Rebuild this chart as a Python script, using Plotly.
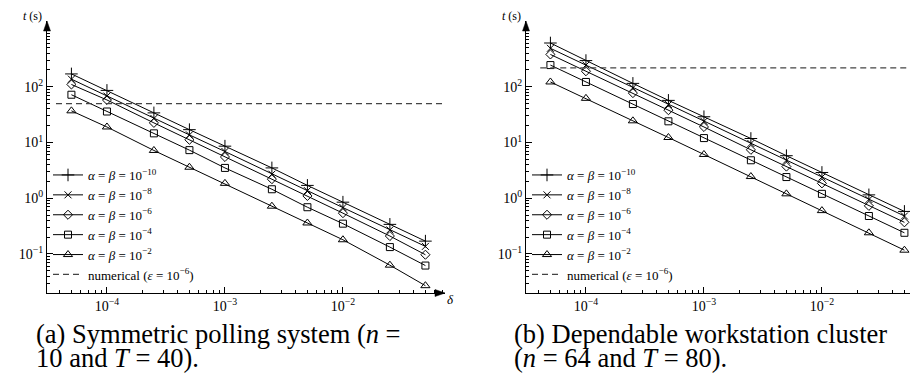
import plotly.graph_objects as go

W, H = 918, 377

# ---- data ----
deltas = [5e-5, 1e-4, 2.5e-4, 5e-4, 1e-3, 2.5e-3, 5e-3, 1e-2, 2.5e-2, 5e-2]

# (a) Symmetric polling system
a_10 = [170, 86, 34, 17, 8.6, 3.5, 1.7, 0.85, 0.34, 0.17]
a_8 = [137, 68, 27, 13.7, 6.9, 2.7, 1.37, 0.68, 0.27, 0.137]
a_6 = [110, 58, 22.5, 11.2, 5.5, 2.2, 1.1, 0.54, 0.21, 0.097]
a_4 = [72, 36, 14.6, 7.3, 3.5, 1.45, 0.69, 0.35, 0.133, 0.062]
a_2 = [37, 19, 7.2, 3.6, 1.85, 0.72, 0.36, 0.18, 0.063, 0.027]
a_num_x = [3.7e-5, 0.08]
a_num_y = [50, 50]

# (b) Dependable workstation cluster
b_10 = [610, 295, 115, 57, 29, 11.8, 5.8, 2.9, 1.15, 0.58]
b_8 = [490, 245, 96, 48, 24, 9.6, 4.8, 2.4, 0.95, 0.48]
b_6 = [380, 190, 77, 38, 19, 7.4, 3.7, 1.85, 0.73, 0.37]
b_4 = [245, 122, 49, 24, 12, 4.8, 2.4, 1.2, 0.48, 0.24]
b_2 = [122, 62, 24.5, 12.3, 6.1, 2.45, 1.2, 0.6, 0.24, 0.117]
b_num_x = [4.1e-5, 0.09]
b_num_y = [218, 218]

series_names = [
    "<i>α</i> = <i>β</i> = 10<sup>−10</sup>",
    "<i>α</i> = <i>β</i> = 10<sup>−8</sup>",
    "<i>α</i> = <i>β</i> = 10<sup>−6</sup>",
    "<i>α</i> = <i>β</i> = 10<sup>−4</sup>",
    "<i>α</i> = <i>β</i> = 10<sup>−2</sup>",
]
num_name = "numerical (<i>ε</i> = 10<sup>−6</sup>)"

x_tickvals = [1e-4, 1e-3, 1e-2]
x_ticktext = ["10<sup>−4</sup>", "10<sup>−3</sup>", "10<sup>−2</sup>"]
y_tickvals = [0.1, 1, 10, 100]
y_ticktext = ["10<sup>−1</sup>", "10<sup>0</sup>", "10<sup>1</sup>", "10<sup>2</sup>"]

captions_a = ["(a) Symmetric polling system (<i>n</i> =", "10 and <i>T</i> = 40)."]
captions_b = ["(b) Dependable workstation cluster", "(<i>n</i> = 64 and <i>T</i> = 80)."]

# ---- style ----
symbols = ["cross-thin-open", "x-thin-open", "diamond-open", "square-open", "triangle-up-open"]
sizes = [9, 7, 7, 7, 8]
SERIF = "Liberation Serif"

fig = go.Figure()


def add_panel(series, num_x, num_y, xa, ya, legend):
    for vals, name, sym, sz in zip(series, series_names, symbols, sizes):
        fig.add_trace(go.Scatter(
            x=deltas, y=vals, name=name, mode="lines+markers",
            xaxis=xa, yaxis=ya, legend=legend,
            line=dict(color="black", width=1),
            marker=dict(symbol=sym, size=sz, color="black",
                        line=dict(color="black", width=1)),
        ))
    fig.add_trace(go.Scatter(
        x=num_x, y=num_y, name=num_name, mode="lines",
        xaxis=xa, yaxis=ya, legend=legend,
        line=dict(color="#444444", width=1.3, dash="6px,4px"),
    ))


add_panel([a_10, a_8, a_6, a_4, a_2], a_num_x, a_num_y, "x", "y", "legend")
add_panel([b_10, b_8, b_6, b_4, b_2], b_num_x, b_num_y, "x2", "y2", "legend2")

y_px_bot, y_px_top = 285, 13
yd = [(H - y_px_bot) / H, (H - y_px_top) / H]
xd1 = [39 / W, 437 / W]
xd2 = [518 / W, 916 / W]

x_minor = [k * 10 ** e for e in (-5, -4, -3, -2) for k in range(2, 10)]
y_minor = [k * 10.0 ** e for e in (-2, -1, 0, 1, 2, 3) for k in range(2, 10)]

xaxis_common = dict(
    type="log", range=[-4.508, -1.135], showline=True, linecolor="black", linewidth=1,
    showgrid=False, zeroline=False, ticks="inside", ticklen=6, tickcolor="black",
    tickmode="array", tickvals=x_tickvals, ticktext=x_ticktext,
    tickfont=dict(family=SERIF, size=14, color="black"),
    minor=dict(ticks="inside", ticklen=3, tickcolor="black", tickmode="array",
               tickvals=x_minor, showgrid=False),
)
yaxis_common = dict(
    type="log", range=[-1.70, 3.18], showline=True, linecolor="black", linewidth=1,
    showgrid=False, zeroline=False, ticks="inside", ticklen=6, tickcolor="black",
    tickmode="array", tickvals=y_tickvals, ticktext=y_ticktext,
    tickfont=dict(family=SERIF, size=14, color="black"),
    minor=dict(ticks="inside", ticklen=3, tickcolor="black", tickmode="array",
               tickvals=y_minor, showgrid=False),
    domain=yd,
)

legend_common = dict(
    xanchor="left", yanchor="top", bgcolor="rgba(0,0,0,0)",
    font=dict(family=SERIF, size=13, color="black"), itemwidth=30,
    tracegroupgap=0,
)

fig.update_layout(
    width=W, height=H, margin=dict(l=0, r=0, t=0, b=0),
    paper_bgcolor="white", plot_bgcolor="white",
    xaxis=dict(domain=xd1, anchor="y", **xaxis_common),
    yaxis=dict(anchor="x", **yaxis_common),
    xaxis2=dict(domain=xd2, anchor="y2", **xaxis_common),
    yaxis2=dict(anchor="x2", **yaxis_common),
    legend=dict(x=40 / W, y=(H - 152) / H, **legend_common),
    legend2=dict(x=519 / W, y=(H - 152) / H, **legend_common),
    showlegend=True,
)


def px(x, y):
    return x / W, (H - y) / H


shapes = []
for ax_left, ax_right in [(39, 437), (518, 916)]:
    # x-axis arrowhead
    t = px(ax_right, 285); b1 = px(ax_right - 10, 281.5); b2 = px(ax_right - 10, 288.5)
    shapes.append(dict(type="path", xref="paper", yref="paper",
                       path=f"M {t[0]},{t[1]} L {b1[0]},{b1[1]} L {b2[0]},{b2[1]} Z",
                       fillcolor="black", line=dict(color="black", width=0.5)))
    # y-axis arrowhead
    t = px(ax_left, 13); b1 = px(ax_left - 3.5, 23); b2 = px(ax_left + 3.5, 23)
    shapes.append(dict(type="path", xref="paper", yref="paper",
                       path=f"M {t[0]},{t[1]} L {b1[0]},{b1[1]} L {b2[0]},{b2[1]} Z",
                       fillcolor="black", line=dict(color="black", width=0.5)))
fig.update_layout(shapes=shapes)

ann = []
for ax_left, ax_right in [(39, 437), (518, 916)]:
    xx, yy = px(ax_left - 15, 8)
    ann.append(dict(x=xx, y=yy, xref="paper", yref="paper", text="<i>t</i> (s)",
                    showarrow=False, xanchor="center", yanchor="middle",
                    font=dict(family=SERIF, size=12, color="black")))
    xx, yy = px(ax_right + 5, 291)
    ann.append(dict(x=xx, y=yy, xref="paper", yref="paper", text="<i>δ</i>",
                    showarrow=False, xanchor="center", yanchor="middle",
                    font=dict(family=SERIF, size=13, color="black")))

for left, lines in [(26, captions_a), (504, captions_b)]:
    for i, txt in enumerate(lines):
        xx, yy = px(left, 326 + 24 * i)
        ann.append(dict(x=xx, y=yy, xref="paper", yref="paper", text=txt,
                        showarrow=False, xanchor="left", yanchor="middle",
                        font=dict(family=SERIF, size=26.5, color="black")))
fig.update_layout(annotations=ann)

fig.write_html("out.html")
